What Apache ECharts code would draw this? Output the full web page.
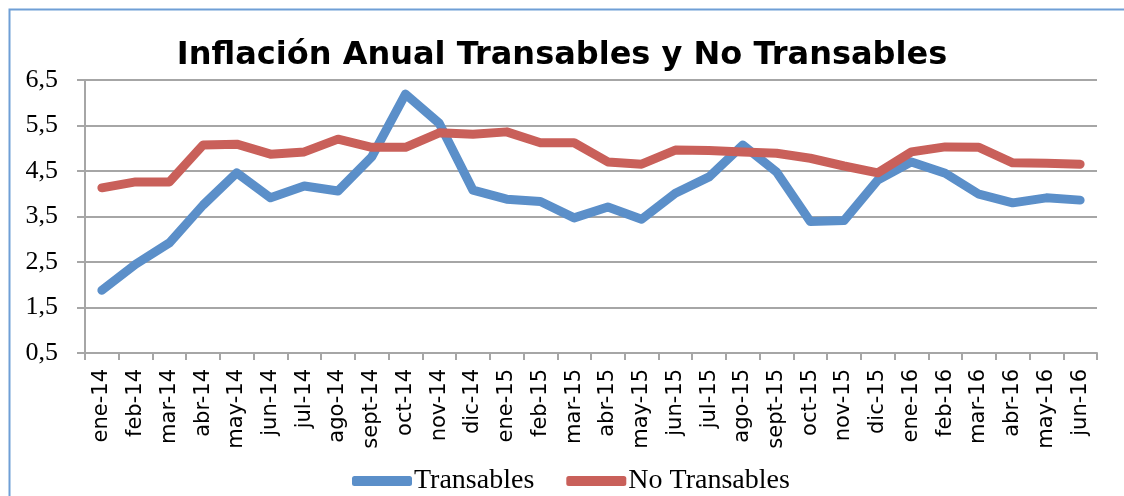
<!DOCTYPE html>
<html>
<head>
<meta charset="utf-8">
<script src="https://cdn.jsdelivr.net/npm/echarts@6/dist/echarts.min.js"></script>
<style>html,body{margin:0;padding:0;background:#fff}#c{width:1124px;height:496px}</style>
</head>
<body>
<div id="c"></div>
<script>
const categories = ['ene-14','feb-14','mar-14','abr-14','may-14','jun-14','jul-14','ago-14','sept-14','oct-14','nov-14','dic-14',
  'ene-15','feb-15','mar-15','abr-15','may-15','jun-15','jul-15','ago-15','sept-15','oct-15','nov-15','dic-15',
  'ene-16','feb-16','mar-16','abr-16','may-16','jun-16'];
const transables = [1.88,2.45,2.92,3.75,4.46,3.91,4.17,4.06,4.81,6.19,5.55,4.08,
  3.88,3.83,3.47,3.71,3.44,4.01,4.37,5.07,4.48,3.39,3.41,4.30,
  4.70,4.45,3.99,3.80,3.91,3.86];
const noTransables = [4.13,4.26,4.26,5.07,5.09,4.87,4.92,5.20,5.02,5.02,5.34,5.31,
  5.36,5.12,5.12,4.70,4.65,4.96,4.95,4.92,4.89,4.78,4.61,4.46,
  4.92,5.03,5.02,4.68,4.67,4.65];
const yTicks = [0.5,1.5,2.5,3.5,4.5,5.5,6.5];
const titleText = 'Inflación Anual Transables y No Transables';
const seriesNames = ['Transables','No Transables'];

const chart = echarts.init(document.getElementById('c'), null, {renderer:'canvas'});
const lineCommon = {type:'line', symbol:'none', smooth:false, animation:false};
chart.setOption({
  animation:false,
  backgroundColor:'#fff',
  title:{text:titleText, left:'center', top:35,
    textStyle:{fontFamily:'DejaVu Sans', fontWeight:'bold', fontSize:32, color:'#000'}},
  graphic:[{type:'rect', left:7, top:7, shape:{width:1130, height:500},
    style:{fill:'none', stroke:'#6f9fd6', lineWidth:2}, silent:true}],
  legend:{top:462, left:347, itemWidth:60, itemHeight:10, itemGap:32,
    icon:'roundRect',
    textStyle:{fontFamily:'Liberation Serif', fontSize:28, color:'#000', padding:[0,0,0,-3]},
    data:seriesNames},
  grid:{left:85, right:27, top:80, bottom:143, containLabel:false},
  xAxis:{type:'category', data:categories, boundaryGap:true,
    axisLine:{lineStyle:{color:'#a6a6a6', width:2}},
    axisTick:{show:true, length:7, alignWithLabel:false, lineStyle:{color:'#a6a6a6', width:2}},
    axisLabel:{interval:0, rotate:90, margin:16, fontFamily:'DejaVu Sans', fontSize:21, color:'#000'}},
  yAxis:{type:'value', min:0.5, max:6.5, interval:1,
    axisLine:{show:true, lineStyle:{color:'#a6a6a6', width:2}},
    axisTick:{show:true, length:8, lineStyle:{color:'#a6a6a6', width:2}},
    splitLine:{lineStyle:{color:'#a6a6a6', width:2}},
    axisLabel:{margin:27, fontFamily:'Liberation Serif', fontSize:26, color:'#000',
      formatter:v=>v.toFixed(1).replace('.',',')}},
  series:[
    Object.assign({}, lineCommon, {name:seriesNames[0], data:transables,
      color:'#5b8fc9', lineStyle:{color:'#5b8fc9', width:9, cap:'round', join:'round'}}),
    Object.assign({}, lineCommon, {name:seriesNames[1], data:noTransables,
      color:'#c9605a', lineStyle:{color:'#c9605a', width:9, cap:'round', join:'round'}})
  ]
});
</script>
</body>
</html>
